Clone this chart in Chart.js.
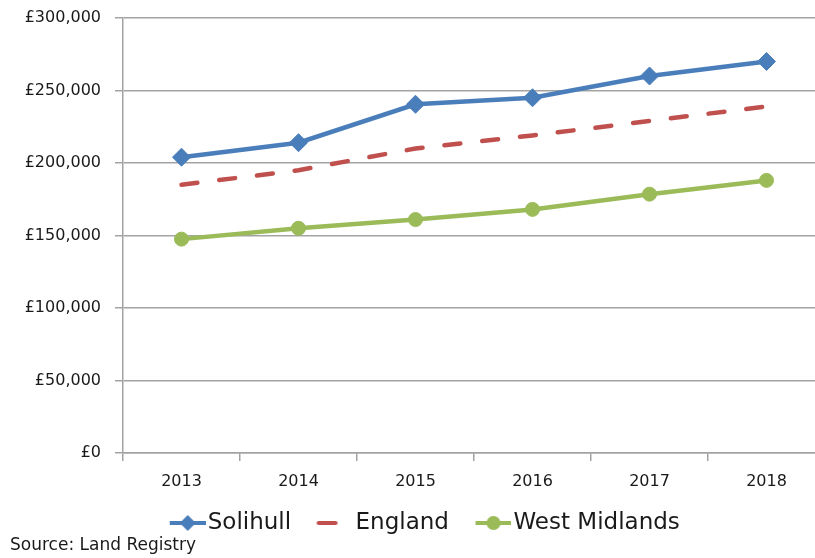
<!DOCTYPE html>
<html>
<head>
<meta charset="utf-8">
<script src="https://cdn.jsdelivr.net/npm/chart.js@4/dist/chart.umd.min.js"></script>
<style>
  html, body { margin: 0; padding: 0; background: #fff; overflow: hidden; }
  #chart { display: block; }
</style>
</head>
<body>
<canvas id="chart" width="826" height="558"></canvas>
<script>
const years = ['2013', '2014', '2015', '2016', '2017', '2018'];
const solihull = [204000, 214000, 240500, 245000, 260000, 270000];
const england = [185000, 195000, 210000, 219000, 229000, 239000];
const westMidlands = [147500, 155000, 161000, 168000, 178500, 188000];
const priceMin = 0;
const priceMax = 300000;
const priceStep = 50000;
const sourceText = 'Source: Land Registry';

const BLUE = '#4a7ebb';
const RED = '#c0504d';
const GREEN = '#9bbb59';
const GRID = '#a3a3a3';
const FONT = '"DejaVu Sans", sans-serif';

// little line-and-marker samples for the legend
const makeIcon = (color, kind) => {
    let c = document.createElement('canvas');
    c.width = 70;
    c.height = 24;
    let g = c.getContext('2d');
    g.strokeStyle = color;
    g.fillStyle = color;
    g.lineWidth = 4;
    if (kind === 'dash') {
        g.lineCap = 'round';
        g.beginPath();
        g.moveTo(35, 12);
        g.lineTo(52, 12);
        g.stroke();
        return c;
    }
    g.beginPath();
    g.moveTo(34, 12);
    g.lineTo(70, 12);
    g.stroke();
    g.beginPath();
    if (kind === 'diamond') {
        g.moveTo(52, 4);
        g.lineTo(60, 12);
        g.lineTo(52, 20);
        g.lineTo(44, 12);
        g.closePath();
    } else {
        g.arc(52, 12, 7, 0, Math.PI * 2);
    }
    g.fill();
    return c;
};
const legendIcons = [makeIcon(BLUE, 'diamond'), makeIcon(RED, 'dash'), makeIcon(GREEN, 'circle')];

const sourceNote = {
    id: 'sourceNote',
    afterDraw(chart) {
        let ctx = chart.ctx;
        ctx.save();
        ctx.font = '17px ' + FONT;
        ctx.fillStyle = '#1a1a1a';
        ctx.textBaseline = 'middle';
        ctx.fillText(sourceText, 10, 546);
        ctx.restore();
    }
};

let ctx = document.getElementById('chart').getContext('2d');
new Chart(ctx, {
    type: 'line',
    data: {
        labels: years,
        datasets: [{
            label: 'Solihull',
            data: solihull,
            borderColor: BLUE,
            backgroundColor: BLUE,
            borderWidth: 4.5,
            pointStyle: 'rectRot',
            pointRadius: 9,
            pointBorderWidth: 1,
            tension: 0
        }, {
            label: 'England',
            data: england,
            borderColor: RED,
            backgroundColor: RED,
            borderWidth: 4.5,
            borderDash: [16, 22],
            borderCapStyle: 'round',
            pointRadius: 0,
            tension: 0
        }, {
            label: 'West Midlands',
            data: westMidlands,
            borderColor: GREEN,
            backgroundColor: GREEN,
            borderWidth: 4.5,
            pointStyle: 'circle',
            pointRadius: 7,
            pointBorderWidth: 1,
            tension: 0
        }]
    },
    options: {
        responsive: false,
        animation: false,
        layout: { autoPadding: false, padding: { top: 18, right: 1, bottom: 13.5, left: 0 } },
        scales: {
            x: {
                offset: true,
                afterFit: (scale) => { scale.height = 56.5; },
                grid: { display: true, drawOnChartArea: false, offset: true, tickLength: 8, color: GRID, lineWidth: 1.5 },
                border: { display: true, color: GRID, width: 1.5 },
                ticks: { color: '#1a1a1a', font: { family: FONT, size: 16 }, padding: 11, maxRotation: 0 }
            },
            y: {
                min: priceMin,
                max: priceMax,
                afterFit: (scale) => { scale.width = 123; },
                grid: { color: GRID, lineWidth: 1.5, tickLength: 8 },
                border: { display: true, color: GRID, width: 1.5 },
                ticks: {
                    stepSize: priceStep,
                    color: '#1a1a1a',
                    // small line height keeps the top label from pushing the plot down
                    font: { family: FONT, size: 16, lineHeight: 0.4 },
                    padding: 14,
                    callback: (v) => '£' + v.toLocaleString('en-GB')
                }
            }
        },
        plugins: {
            tooltip: { enabled: false },
            legend: {
                position: 'bottom',
                labels: {
                    usePointStyle: true,
                    pointStyleWidth: 51,
                    padding: 2,
                    color: '#1a1a1a',
                    font: { family: FONT, size: 23 },
                    generateLabels: (chart) => Chart.defaults.plugins.legend.labels.generateLabels(chart)
                        .map((item, i) => ({ ...item, pointStyle: legendIcons[i] }))
                }
            }
        }
    },
    plugins: [sourceNote]
});
</script>
</body>
</html>
